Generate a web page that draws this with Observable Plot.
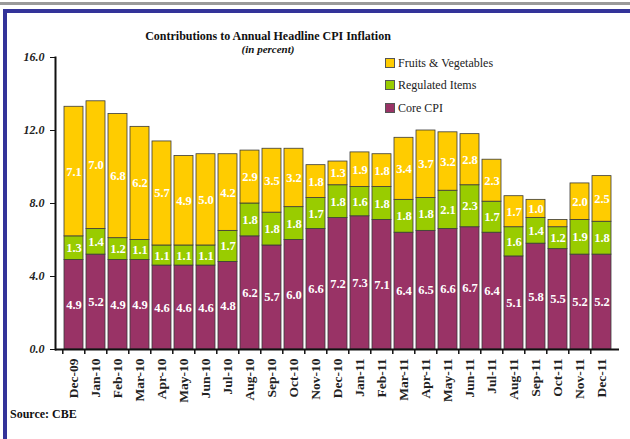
<!DOCTYPE html>
<html><head><meta charset="utf-8">
<script src="https://cdn.jsdelivr.net/npm/d3@7"></script>
<script src="https://cdn.jsdelivr.net/npm/@observablehq/plot@0.6"></script>
<style>
body{margin:0;background:#fff;font-family:"Liberation Serif","DejaVu Serif",serif;}
#page{position:relative;width:630px;height:439px;overflow:hidden;background:#fff;}
#greyline{position:absolute;left:0;top:2px;width:630px;height:3px;background:#9a9a9a;}
#frame{position:absolute;left:3px;top:9px;width:640px;height:427px;border-left:4px solid #333399;border-top:4px solid #333399;border-bottom:2px solid #5555aa;box-sizing:content-box;}
#chart{position:absolute;left:0;top:50px;}
#title{position:absolute;left:0;top:29px;width:536px;text-align:center;font-weight:bold;font-size:12px;color:#111;line-height:14px;}
#subtitle{position:absolute;left:0;top:43px;width:536px;text-align:center;font-weight:bold;font-style:italic;font-size:11px;color:#111;line-height:13px;}
#legend{position:absolute;left:385px;top:55px;font-size:12px;color:#222;}
.li{position:absolute;left:0;white-space:nowrap;height:16px;line-height:16px;}
.sw{display:inline-block;width:8px;height:8px;border:1px solid #555;margin-right:3px;vertical-align:middle;position:relative;top:-1px;}
#source{position:absolute;left:10px;top:407px;font-weight:bold;font-size:12px;color:#111;}
</style></head><body><div id="page">
<div id="greyline"></div>
<div id="frame"></div>
<div id="chart"></div>
<div id="title">Contributions to Annual Headline CPI Inflation</div>
<div id="subtitle">(in percent)</div>
<div id="legend"></div>
<div id="source">Source: CBE</div>
</div>
<script>
const months = ["Dec-09","Jan-10","Feb-10","Mar-10","Apr-10","May-10","Jun-10","Jul-10","Aug-10","Sep-10","Oct-10","Nov-10","Dec-10","Jan-11","Feb-11","Mar-11","Apr-11","May-11","Jun-11","Jul-11","Aug-11","Sep-11","Oct-11","Nov-11","Dec-11"];
const coreCPI   = [4.9,5.2,4.9,4.9,4.6,4.6,4.6,4.8,6.2,5.7,6.0,6.6,7.2,7.3,7.1,6.4,6.5,6.6,6.7,6.4,5.1,5.8,5.5,5.2,5.2];
const regulated = [1.3,1.4,1.2,1.1,1.1,1.1,1.1,1.7,1.8,1.8,1.8,1.7,1.8,1.6,1.8,1.8,1.8,2.1,2.3,1.7,1.6,1.4,1.2,1.9,1.8];
const fruitsVeg = [7.1,7.0,6.8,6.2,5.7,4.9,5.0,4.2,2.9,3.5,3.2,1.8,1.3,1.9,1.8,3.4,3.7,3.2,2.8,2.3,1.7,1.0,0.4,2.0,2.5];
const seriesNames = ["Core CPI","Regulated Items","Fruits & Vegetables"];
const seriesColors = ["#993366","#99CC00","#FFCC00"];
const legendOrder = ["Fruits & Vegetables","Regulated Items","Core CPI"];
const yTicks = [0,4,8,12,16];

const seriesValues = [coreCPI, regulated, fruitsVeg];
const data = [];
months.forEach((m,i)=>{
  seriesNames.forEach((s,j)=>data.push({month:m, series:s, value:seriesValues[j][i]}));
});

const W=630,H=360,ML=55,MR=11,MT=7,MB=61,PAD=0.15;
const step=(W-ML-MR)/(months.length - PAD + 2*PAD);

const plot = Plot.plot({
  width:W, height:H, marginLeft:ML, marginRight:MR, marginTop:MT, marginBottom:MB,
  style:{fontFamily:'"Liberation Serif","DejaVu Serif",serif', background:"transparent", color:"#222"},
  x:{domain:months, padding:PAD, label:null},
  y:{domain:[0,16], label:null},
  color:{domain:seriesNames, range:seriesColors},
  marks:[
    Plot.barY(data, {x:"month", y:"value", fill:"series", order:seriesNames, stroke:"#3a3a3a", strokeWidth:0.8}),
    Plot.text(data, Plot.stackY({x:"month", y:"value", z:"series", order:seriesNames,
      text:d=>d.value>=0.5?d.value.toFixed(1):"", fill:"white", fontWeight:"bold", fontSize:12.5})),
    Plot.ruleY([0], {stroke:"#111", strokeWidth:2}),
    Plot.frame({anchor:"left", stroke:"#111", strokeWidth:2}),
    Plot.axisY({ticks:yTicks, tickFormat:d=>d.toFixed(1), tickSize:5, tickPadding:6, fontWeight:"bold", fontStyle:"italic", fontSize:12, stroke:"#111"}),
    Plot.axisX({tickSize:5, text:null, dx:-step/2, stroke:"#111", strokeWidth:1.5}),
    Plot.axisX({tickSize:0, tickPadding:9, tickRotate:-90, fontWeight:"bold", fontSize:13.5})
  ]
});
document.getElementById("chart").appendChild(plot);

const leg = document.getElementById("legend");
const tops = [0,22,45];
legendOrder.forEach((s,i)=>{
  const d=document.createElement("div");d.className="li";d.style.top=tops[i]+"px";
  const sw=document.createElement("span");sw.className="sw";sw.style.background=seriesColors[seriesNames.indexOf(s)];
  d.appendChild(sw);d.appendChild(document.createTextNode(s));leg.appendChild(d);
});
</script>
</body></html>
